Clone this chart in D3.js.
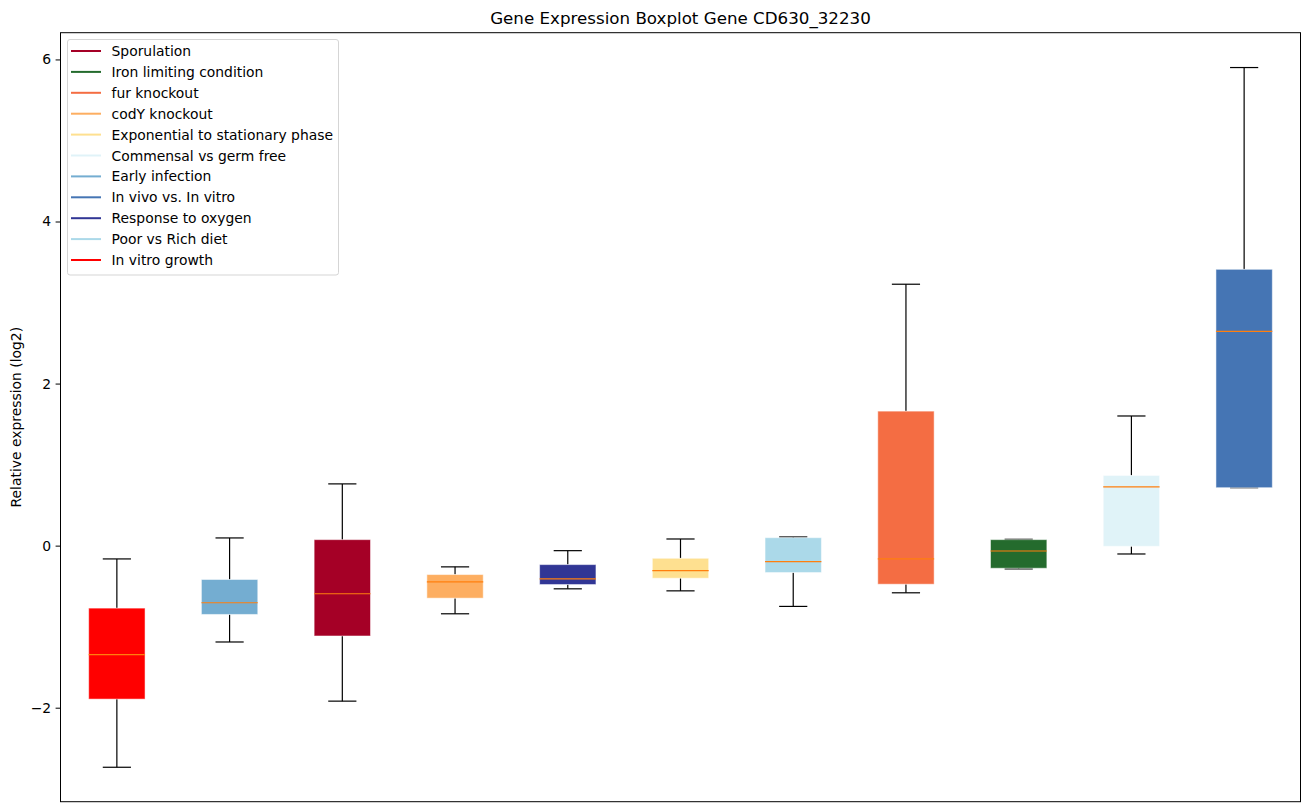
<!DOCTYPE html>
<html>
<head>
<meta charset="utf-8">
<script src="https://cdn.jsdelivr.net/npm/d3@7"></script>
<style>
  body { margin: 0; background: #fff; }
  text { font-family: "DejaVu Sans", sans-serif; }
</style>
</head>
<body>
<svg width="1309" height="812"></svg>
<script>
// boxes, left to right (sorted by median)
const groups = ["In vitro growth", "Early infection", "Sporulation", "codY knockout",
  "Response to oxygen", "Exponential to stationary phase", "Poor vs Rich diet",
  "fur knockout", "Iron limiting condition", "Commensal vs germ free", "In vivo vs. In vitro"];
const whiskerLow  = [-2.735, -1.189, -1.919, -0.841, -0.533, -0.558, -0.750, -0.582, -0.287, -0.103, 0.715];
const q1          = [-1.894, -0.849, -1.115, -0.648, -0.480, -0.402, -0.332, -0.476, -0.279, -0.008, 0.715];
const medians     = [-1.345, -0.705, -0.594, -0.447, -0.410, -0.308, -0.197, -0.164, -0.066, 0.725, 2.643];
const q3          = [-0.771, -0.418, 0.074, -0.357, -0.234, -0.156, 0.098, 1.660, 0.074, 0.866, 3.410];
const whiskerHigh = [-0.164, 0.095, 0.762, -0.262, -0.062, 0.082, 0.107, 3.226, 0.078, 1.600, 5.900];

// legend order and colours
const legendNames = ["Sporulation", "Iron limiting condition", "fur knockout", "codY knockout",
  "Exponential to stationary phase", "Commensal vs germ free", "Early infection",
  "In vivo vs. In vitro", "Response to oxygen", "Poor vs Rich diet", "In vitro growth"];
const legendColors = ["#a50026", "#246b2d", "#f46d43", "#fdae61", "#fee090", "#e0f3f8",
  "#74add1", "#4575b4", "#313695", "#abd9e9", "#ff0000"];

const yTicks = [-2, 0, 2, 4, 6];

const colorOf = d3.scaleOrdinal().domain(legendNames).range(legendColors);

const svg = d3.select("svg");
const margin = {left: 60.5, right: 8.5, top: 32.7, bottom: 10.3};
const W = 1309, H = 812;

const x = d3.scaleBand()
    .domain(groups)
    .range([margin.left, W - margin.right])
    .paddingInner(0).paddingOuter(0);

const y = d3.scaleLinear()
    .domain([-3.16, 6.33])
    .range([H - margin.bottom, margin.top]);

const data = groups.map((g, i) => ({
  name: g, lo: whiskerLow[i], q1: q1[i], med: medians[i], q3: q3[i], hi: whiskerHigh[i]
}));

const boxW = x.bandwidth() * 0.5;
const capW = boxW * 0.5;
const cx = d => x(d.name) + x.bandwidth() / 2;

const g = svg.append("g");

// whiskers
g.selectAll(".whisker")
  .data(data.flatMap(d => [[d, d.lo, d.q1], [d, d.q3, d.hi]]))
  .join("line")
    .attr("x1", d => cx(d[0])).attr("x2", d => cx(d[0]))
    .attr("y1", d => y(d[1])).attr("y2", d => y(d[2]))
    .attr("stroke", "#000").attr("stroke-width", 1.2);

// caps
g.selectAll(".cap")
  .data(data.flatMap(d => [[d, d.lo], [d, d.hi]]))
  .join("line")
    .attr("x1", d => cx(d[0]) - capW / 2).attr("x2", d => cx(d[0]) + capW / 2)
    .attr("y1", d => y(d[1])).attr("y2", d => y(d[1]))
    .attr("stroke", "#000").attr("stroke-width", 1.2);

// boxes
g.selectAll(".box")
  .data(data)
  .join("rect")
    .attr("x", d => cx(d) - boxW / 2)
    .attr("width", boxW)
    .attr("y", d => y(d.q3))
    .attr("height", d => y(d.q1) - y(d.q3))
    .attr("fill", d => colorOf(d.name))
    .attr("stroke", "#ffffff").attr("stroke-opacity", 0.5).attr("stroke-width", 1);

// medians
g.selectAll(".median")
  .data(data)
  .join("line")
    .attr("x1", d => cx(d) - boxW / 2).attr("x2", d => cx(d) + boxW / 2)
    .attr("y1", d => y(d.med)).attr("y2", d => y(d.med))
    .attr("stroke", "#ff7f0e").attr("stroke-width", 1.2);

// y axis
const yAxis = d3.axisLeft(y).tickValues(yTicks).tickSize(4.9).tickPadding(4.5)
    .tickFormat(d => d < 0 ? "\u2212" + Math.abs(d) : d);
svg.append("g")
    .attr("transform", `translate(${margin.left},0)`)
    .call(yAxis)
    .call(a => a.select(".domain").remove())
    .call(a => a.selectAll("text").style("font-size", "13.9px").attr("fill", "#000")
        .style("font-family", "'DejaVu Sans', sans-serif"));

// frame
svg.append("rect")
    .attr("x", margin.left).attr("y", margin.top)
    .attr("width", W - margin.left - margin.right)
    .attr("height", H - margin.top - margin.bottom)
    .attr("fill", "none").attr("stroke", "#000").attr("stroke-width", 1);

// title
svg.append("text")
    .attr("x", (margin.left + W - margin.right) / 2).attr("y", 24)
    .attr("text-anchor", "middle").style("font-size", "16.7px")
    .text("Gene Expression Boxplot Gene CD630_32230");

// y label
svg.append("text")
    .attr("transform", `translate(21,${(margin.top + H - margin.bottom) / 2}) rotate(-90)`)
    .attr("text-anchor", "middle").style("font-size", "13.9px")
    .text("Relative expression (log2)");

// legend
const legend = svg.append("g");
legend.append("rect")
    .attr("x", 67.5).attr("y", 39.5).attr("width", 271).attr("height", 235.5)
    .attr("rx", 2.5).attr("fill", "#fff").attr("fill-opacity", 0.8)
    .attr("stroke", "#d5d5d5").attr("stroke-width", 1);

const rows = legend.selectAll(".row")
  .data(legendNames)
  .join("g")
    .attr("transform", (d, i) => `translate(0,${51 + i * 20.9})`);
rows.append("line")
    .attr("x1", 71).attr("x2", 101)
    .attr("stroke", d => colorOf(d)).attr("stroke-width", 2);
rows.append("text")
    .attr("x", 111.5).attr("y", 5).style("font-size", "13.9px")
    .text(d => d);
</script>
</body>
</html>
